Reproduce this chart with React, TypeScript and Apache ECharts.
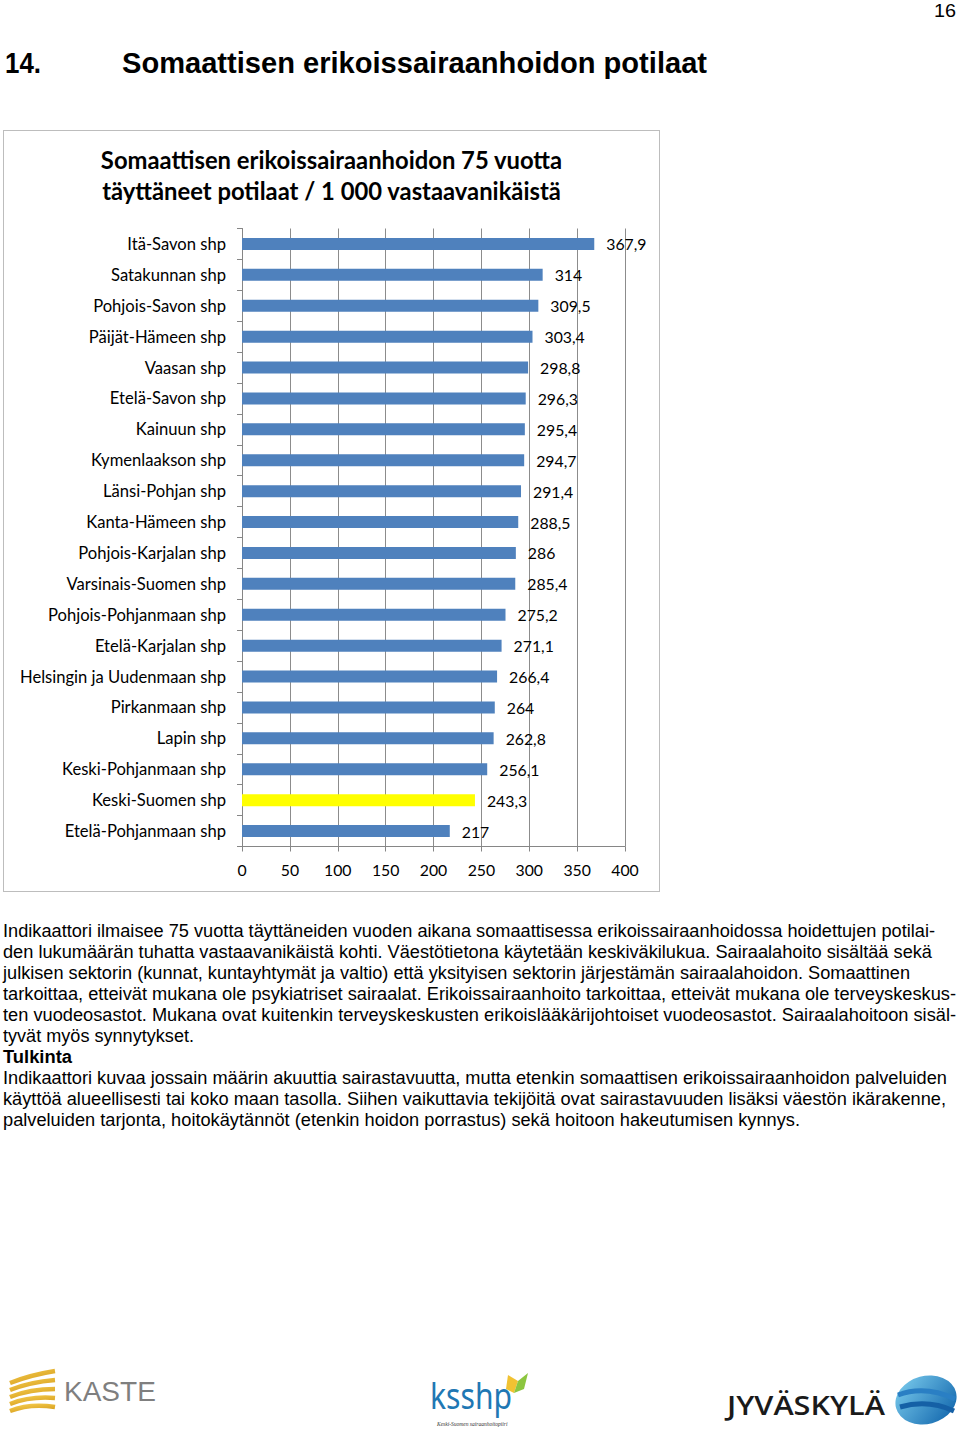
import React, { useEffect, useRef } from "react";
import * as echarts from "echarts";

const categories = [
  "Itä-Savon shp",
  "Satakunnan shp",
  "Pohjois-Savon shp",
  "Päijät-Hämeen shp",
  "Vaasan shp",
  "Etelä-Savon shp",
  "Kainuun shp",
  "Kymenlaakson shp",
  "Länsi-Pohjan shp",
  "Kanta-Hämeen shp",
  "Pohjois-Karjalan shp",
  "Varsinais-Suomen shp",
  "Pohjois-Pohjanmaan shp",
  "Etelä-Karjalan shp",
  "Helsingin ja Uudenmaan shp",
  "Pirkanmaan shp",
  "Lapin shp",
  "Keski-Pohjanmaan shp",
  "Keski-Suomen shp",
  "Etelä-Pohjanmaan shp",
];
const values = [
  367.9, 314, 309.5, 303.4, 298.8, 296.3, 295.4, 294.7, 291.4, 288.5, 286,
  285.4, 275.2, 271.1, 266.4, 264, 262.8, 256.1, 243.3, 217,
];
const highlighted = "Keski-Suomen shp";
const chartTitle =
  "Somaattisen erikoissairaanhoidon 75 vuotta\ntäyttäneet potilaat / 1 000 vastaavanikäistä";

const pageNumber = "16";
const headingNumber = "14.";
const headingText = "Somaattisen erikoissairaanhoidon potilaat";

const bodyLines: { text: string; width: number; bold?: boolean }[] = [
  { text: "Indikaattori ilmaisee 75 vuotta täyttäneiden vuoden aikana somaattisessa erikoissairaanhoidossa hoidettujen potilai-", width: 932 },
  { text: "den lukumäärän tuhatta vastaavanikäistä kohti. Väestötietona käytetään keskiväkilukua. Sairaalahoito sisältää sekä", width: 929 },
  { text: "julkisen sektorin (kunnat, kuntayhtymät ja valtio) että yksityisen sektorin järjestämän sairaalahoidon. Somaattinen", width: 907 },
  { text: "tarkoittaa, etteivät mukana ole psykiatriset sairaalat. Erikoissairaanhoito tarkoittaa, etteivät mukana ole terveyskeskus-", width: 953 },
  { text: "ten vuodeosastot. Mukana ovat kuitenkin terveyskeskusten erikoislääkärijohtoiset vuodeosastot. Sairaalahoitoon sisäl-", width: 953 },
  { text: "tyvät myös synnytykset.", width: 191 },
  { text: "Tulkinta", width: 69, bold: true },
  { text: "Indikaattori kuvaa jossain määrin akuuttia sairastavuutta, mutta etenkin somaattisen erikoissairaanhoidon palveluiden", width: 944 },
  { text: "käyttöä alueellisesti tai koko maan tasolla. Siihen vaikuttavia tekijöitä ovat sairastavuuden lisäksi väestön ikärakenne,", width: 943 },
  { text: "palveluiden tarjonta, hoitokäytännöt (etenkin hoidon porrastus) sekä hoitoon hakeutumisen kynnys.", width: 797 },
];

const FONT = "Lato, 'Noto Sans', sans-serif";

function Chart() {
  const ref = useRef<HTMLDivElement>(null);
  useEffect(() => {
    if (!ref.current) return;
    const chart = echarts.init(ref.current, undefined, { renderer: "svg" });
    chart.setOption({
      animation: false,
      backgroundColor: "#ffffff",
      textStyle: { fontFamily: FONT },
      title: {
        text: chartTitle,
        left: "center",
        top: 8,
        textStyle: {
          fontFamily: FONT,
          fontSize: 23.8,
          fontWeight: "bold",
          color: "#000",
          lineHeight: 31,
        },
      },
      grid: { left: 238, right: 34, top: 97.5, bottom: 44.5 },
      xAxis: {
        type: "value",
        min: 0,
        max: 400,
        interval: 50,
        axisLine: { show: true, lineStyle: { color: "#868686" } },
        axisTick: { show: true, length: 5, lineStyle: { color: "#868686" } },
        axisLabel: { fontFamily: FONT, fontSize: 15.8, color: "#000", margin: 15 },
        splitLine: { show: true, lineStyle: { color: "#8c8c8c", width: 1 } },
      },
      yAxis: {
        type: "category",
        data: categories,
        inverse: true,
        axisLine: { show: true, lineStyle: { color: "#868686" } },
        axisTick: { show: true, length: 5, lineStyle: { color: "#868686" } },
        axisLabel: { fontFamily: FONT, fontSize: 16.6, color: "#000", margin: 16 },
      },
      series: [
        {
          type: "bar",
          barWidth: 12,
          data: values.map((v, i) => ({
            value: v,
            itemStyle: { color: categories[i] === highlighted ? "#ffff00" : "#4f81bd" },
          })),
          label: {
            show: true,
            position: "right",
            distance: 12,
            fontFamily: FONT,
            fontSize: 15.8,
            color: "#000",
            formatter: (p: any) => String(p.value).replace(".", ","),
          },
        },
      ],
    });
    return () => chart.dispose();
  }, []);
  return <div ref={ref} style={{ width: 655, height: 760 }} />;
}

function Logos() {
  return (
    <svg width={960} height={80} style={{ position: "absolute", left: 0, top: 1355 }}>
      <defs>
        <linearGradient id="gold" x1="0" y1="0" x2="1" y2="1">
          <stop offset="0" stopColor="#f3c94a" />
          <stop offset="1" stopColor="#d49a1a" />
        </linearGradient>
        <linearGradient id="stone" x1="0" y1="0" x2="1" y2="1">
          <stop offset="0" stopColor="#7fd0f0" />
          <stop offset="1" stopColor="#0a5fa8" />
        </linearGradient>
      </defs>
      {[0, 1, 2, 3, 4].map((i) => (
        <path
          key={i}
          d={`M10 ${28 + i * 7} Q 30 ${20 + i * 7} 55 ${16 + i * 9}`}
          stroke="url(#gold)"
          strokeWidth={4.5}
          fill="none"
        />
      ))}
      <text x={64} y={46} fontFamily="'Liberation Sans', Arial, sans-serif" fontSize={28} fill="#7f7f7f">
        KASTE
      </text>
      <text x={430} y={54} fontFamily="'Noto Sans', sans-serif" fontSize={36} fill="#1f78b4" textLength={82} lengthAdjust="spacingAndGlyphs">
        ksshp
      </text>
      <polygon points="508,20 518,26 514,38 506,34" fill="#f1c232" />
      <polygon points="518,26 528,18 524,34 514,38" fill="#8cc63f" />
      <text x={437} y={71} fontFamily="'Liberation Serif', serif" fontStyle="italic" fontSize={5.5} fill="#333">
        Keski-Suomen sairaanhoitopiiri
      </text>
      <text x={727} y={60} fontFamily="'Open Sans', sans-serif" fontWeight={600} fontSize={27} fill="#1a1a1a" textLength={158} lengthAdjust="spacingAndGlyphs">
        JYVÄSKYLÄ
      </text>
      <ellipse cx={926} cy={45} rx={31} ry={24} fill="url(#stone)" transform="rotate(-15 926 45)" />
      <path d="M898 40 Q 925 30 955 44" stroke="#2a7fc4" strokeWidth={5} fill="none" />
      <path d="M900 52 Q 928 44 954 56" stroke="#1560a6" strokeWidth={5} fill="none" />
    </svg>
  );
}

export default function App() {
  const startY = 937;
  const lineH = 21;
  return (
    <div style={{ position: "absolute", left: 0, top: 0, width: 960, height: 1429, background: "#fff", overflow: "hidden" }}>
      <svg width={960} height={1429} style={{ position: "absolute", left: 0, top: 0 }}>
        <text x={934} y={17} fontFamily="'Liberation Sans Narrow', 'Liberation Sans', Arial, sans-serif" fontSize={19} fill="#000" textLength={22} lengthAdjust="spacingAndGlyphs">
          {pageNumber}
        </text>
        <text x={5} y={73} fontFamily="'Liberation Sans', Arial, sans-serif" fontWeight="bold" fontSize={29} fill="#000" textLength={36} lengthAdjust="spacingAndGlyphs">
          {headingNumber}
        </text>
        <text x={122} y={73} fontFamily="'Liberation Sans', Arial, sans-serif" fontWeight="bold" fontSize={29} fill="#000" textLength={585} lengthAdjust="spacingAndGlyphs">
          {headingText}
        </text>
        {bodyLines.map((l, i) => (
          <text
            key={i}
            x={3}
            y={startY + i * lineH}
            fontFamily="'Liberation Sans', Arial, sans-serif"
            fontWeight={l.bold ? "bold" : "normal"}
            fontSize={17.5}
            fill="#000"
            textLength={l.width}
            lengthAdjust="spacingAndGlyphs"
          >
            {l.text}
          </text>
        ))}
      </svg>
      <div
        style={{
          position: "absolute",
          left: 3,
          top: 130,
          width: 657,
          height: 762,
          boxSizing: "border-box",
          border: "1px solid #bdbdbd",
          background: "#fff",
        }}
      >
        <Chart />
      </div>
      <Logos />
    </div>
  );
}
